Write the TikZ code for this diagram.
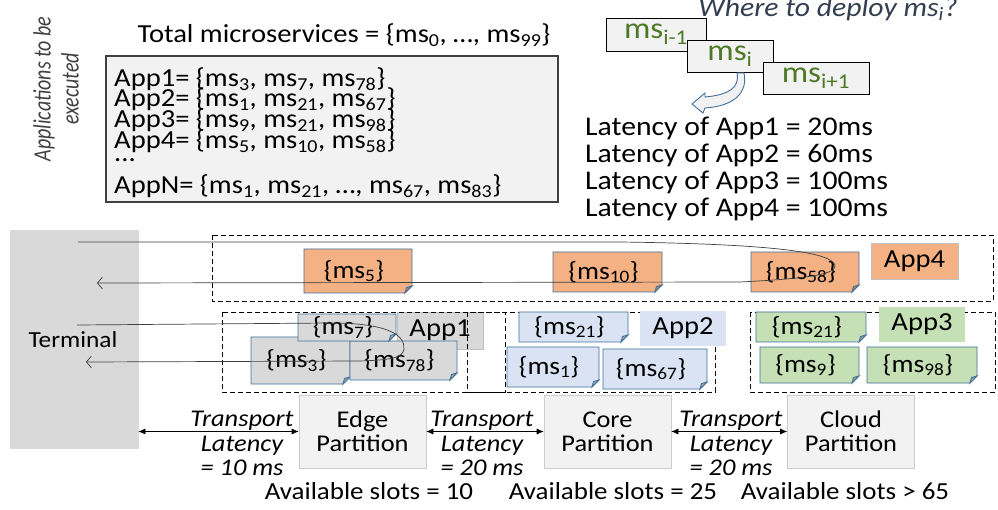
\documentclass[tikz,border=0pt]{standalone}
\usepackage{fontspec}
\setmainfont{Carlito}[FakeStretch=1.1]
\newfontfamily\condfont{Carlito}[FakeStretch=0.8]
\usetikzlibrary{arrows.meta}
\definecolor{orng}{HTML}{F4B183}
\definecolor{nblue}{HTML}{41719C}
\definecolor{gfill}{HTML}{D9D9D9}
\definecolor{lblue}{HTML}{DAE3F3}
\definecolor{lgreen}{HTML}{C5E0B4}
\definecolor{pale}{HTML}{F2F2F2}
\definecolor{msgreen}{HTML}{4E7A27}
\definecolor{dgray}{HTML}{404040}
\definecolor{qtitle}{HTML}{333F50}
\newcommand\fsz[1]{\fontsize{#1}{#1}\selectfont}
\newcommand\sbs[1]{\textsubscript{#1}}
\tikzset{
  noteline/.style={draw=nblue, line width=0.9pt},
  notetext/.style={inner sep=0pt, font=\fsz{25}},
  dbox/.style={draw=black, line width=0.9pt, dash pattern=on 5pt off 3pt},
  lab/.style={inner sep=0pt, font=\fsz{26}, draw=black!25, line width=0.5pt},
  part/.style={fill=pale, draw=black!20, line width=0.6pt, minimum width=127pt, minimum height=73pt, align=center, inner sep=0pt, font=\fontsize{24}{24}\selectfont},
  conn/.style={draw=dgray, line width=0.7pt},
  backtip/.style={-{Straight Barb[length=5pt, width=12pt]}},
  biarrow/.style={draw=black, line width=0.6pt, {Latex[length=7pt,width=6pt]}-{Latex[length=7pt,width=6pt]}},
  tlat/.style={align=center, inner sep=0pt, font=\fontsize{24}{24.5}\selectfont\itshape},
  plain/.style={inner sep=0pt},
  mibox/.style={fill=pale, draw=black, line width=0.9pt, inner sep=0pt, text=msgreen, font=\fsz{30}},
}
\newcommand\msnote[7]{%
  \fill[#6] (#2,#3) -- (#4,#3) -- (#4,{#5-7}) -- ({#4-7},#5) -- (#2,#5) -- cycle;
  \draw[noteline] (#2,#3) -- (#4,#3) -- (#4,{#5-7}) -- ({#4-7},#5) -- (#2,#5) -- cycle;
  \filldraw[noteline, fill=#6!75!black] (#4,{#5-7}) -- ({#4-7},#5) -- ({#4-5.5},{#5-5.5}) -- cycle;
  \node[notetext] (#1) at ({(#2+#4)/2-4},{(#3+#5)/2}) {#7};
}
\begin{document}
\begin{tikzpicture}[x=1pt,y=-1pt]
\useasboundingbox (0,0) rectangle (998,510);
\fill[white] (0,0) rectangle (998,510);

% ---------- top left
\node[plain, rotate=90, align=center, text=dgray, font=\condfont\fontsize{25}{28}\selectfont\itshape] (appsexec) at (56,89) {Applications to be\\executed};
\node[plain, font=\fsz{26}] (total) at (344,35) {Total microservices = \{ms\sbs{0}, …, ms\sbs{99}\}};
\node[fill=pale, draw=dgray, line width=1.2pt, minimum width=452pt, minimum height=146pt, inner sep=0pt] (appbox) at (332,129) {};
\node[plain, anchor=west, font=\fsz{26}] (l1) at (114,79) {App1= \{ms\sbs{3}, ms\sbs{7}, ms\sbs{78}\}};
\node[plain, anchor=west, font=\fsz{26}] (l2) at (114,99) {App2= \{ms\sbs{1}, ms\sbs{21}, ms\sbs{67}\}};
\node[plain, anchor=west, font=\fsz{26}] (l3) at (114,120) {App3= \{ms\sbs{9}, ms\sbs{21}, ms\sbs{98}\}};
\node[plain, anchor=west, font=\fsz{26}] (l4) at (114,141) {App4= \{ms\sbs{5}, ms\sbs{10}, ms\sbs{58}\}};
\node[plain, anchor=west, font=\fsz{26}] (l5) at (114,160) {...};
\node[plain, anchor=west, font=\fsz{26}] (l6) at (114,186) {AppN= \{ms\sbs{1}, ms\sbs{21}, …, ms\sbs{67}, ms\sbs{83}\}};

% ---------- top right
\node[plain, text=qtitle, font=\fsz{27}\itshape] (where) at (828,9) {Where to deploy ms\sbs{i}?};
\node[mibox, minimum width=100pt, minimum height=33pt] (msim) at (656,34.5) {ms\sbs{i-1}};
\node[mibox, minimum width=86pt, minimum height=32pt] (msi) at (730,56) {ms\sbs{i}};
\node[mibox, minimum width=106pt, minimum height=32pt] (msip) at (816,78) {ms\sbs{i+1}};
\filldraw[fill=pale, draw=nblue, line width=0.9pt]
  (737,73) .. controls (740,88) and (728,95) .. (705,97) -- (705,93) -- (692,104)
  -- (703,113) -- (705,108) .. controls (735,106) and (748,92) .. (744,73) -- cycle;
\node[plain, anchor=west, font=\fsz{27}] (lat1) at (585,128) {Latency of App1 = 20ms};
\node[plain, anchor=west, font=\fsz{27}] (lat2) at (585,155) {Latency of App2 = 60ms};
\node[plain, anchor=west, font=\fsz{27}] (lat3) at (585,182) {Latency of App3 = 100ms};
\node[plain, anchor=west, font=\fsz{27}] (lat4) at (585,209) {Latency of App4 = 100ms};

% ---------- terminal
\node[fill=gfill, draw=black!15, line width=0.8pt, minimum width=128pt, minimum height=218pt, inner sep=0pt] (terminal) at (74,339) {};
\node[plain, font=\fsz{23}] (termtxt) at (73,340) {Terminal};

% ---------- App4 row
\draw[dbox] (212,235) rectangle (993,301);
\msnote{ms5}{304}{249}{412}{293}{orng}{\{ms\sbs{5}\}}
\msnote{ms10}{553}{252}{662}{292}{orng}{\{ms\sbs{10}\}}
\msnote{ms58}{751}{252}{859}{292}{orng}{\{ms\sbs{58}\}}
\node[lab, fill=orng, minimum width=87pt, minimum height=36pt] (app4) at (914.5,261) {App4};

% ---------- App1/2/3 row
\node[lab, fill=gfill, minimum width=86pt, minimum height=37pt] (app1) at (440,330.5) {App1};
\draw[dbox] (222,312) rectangle (505,392);
\draw[dbox] (467,312) rectangle (715,392);
\draw[dbox] (750,312) rectangle (995,392);
\node[lab, fill=lblue, draw=none, minimum width=86pt, minimum height=35pt] (app2) at (683,328.5) {App2};
\node[lab, fill=lgreen, draw=none, minimum width=86pt, minimum height=35pt] (app3) at (922,324.5) {App3};
\msnote{ms3}{251}{337}{350}{384}{gfill}{\{ms\sbs{3}\}}
\msnote{ms78}{350}{341}{457}{380}{gfill}{\{ms\sbs{78}\}}
\msnote{ms7}{298}{314}{396}{341}{gfill}{\{ms\sbs{7}\}}
\msnote{ms21a}{519}{312}{628}{342}{lblue}{\{ms\sbs{21}\}}
\msnote{ms1}{507}{347}{599}{387}{lblue}{\{ms\sbs{1}\}}
\msnote{ms67}{603}{349}{707}{389}{lblue}{\{ms\sbs{67}\}}
\msnote{ms21b}{756}{312}{866}{342}{lgreen}{\{ms\sbs{21}\}}
\msnote{ms9}{760}{347}{859}{383}{lgreen}{\{ms\sbs{9}\}}
\msnote{ms98}{867}{347}{977}{383}{lgreen}{\{ms\sbs{98}\}}

% ---------- request paths
\coordinate (a4s) at (78,242);
\coordinate (a4e) at (97,283);
\coordinate (a1s) at (77,325);
\coordinate (a1e) at (86,362);
\draw[conn, backtip] (a4s) -- (620,242) .. controls (770,244) and (834,252) .. (835,266)
  .. controls (836,275) and (800,279) .. (740,282) -- (a4e);
\draw[conn, backtip] (a1s) -- (330,323) .. controls (388,323) and (405,335) .. (404,349)
  .. controls (403,358) and (390,360) .. (360,361) -- (a1e);

% ---------- partitions
\node[part] (edge) at (362.5,431.5) {Edge\\Partition};
\node[part] (core) at (607.5,431.5) {Core\\Partition};
\node[part] (cloud) at (851,431.5) {Cloud\\Partition};
\draw[biarrow] (terminal.east |- edge.west) -- (edge.west);
\draw[biarrow] (edge.east) -- (core.west);
\draw[biarrow] (core.east) -- (cloud.west);
\node[tlat] (t1) at (242,443.5) {Transport\\Latency\\= 10 ms};
\node[tlat] (t2) at (482,443.5) {Transport\\Latency\\= 20 ms};
\node[tlat] (t3) at (731,443.5) {Transport\\Latency\\= 20 ms};
\node[plain, font=\fsz{24.5}] (s1) at (369,491) {Available slots = 10};
\node[plain, font=\fsz{24.5}] (s2) at (613,491) {Available slots = 25};
\node[plain, font=\fsz{24.5}] (s3) at (845,491) {Available slots > 65};
\end{tikzpicture}
\end{document}
